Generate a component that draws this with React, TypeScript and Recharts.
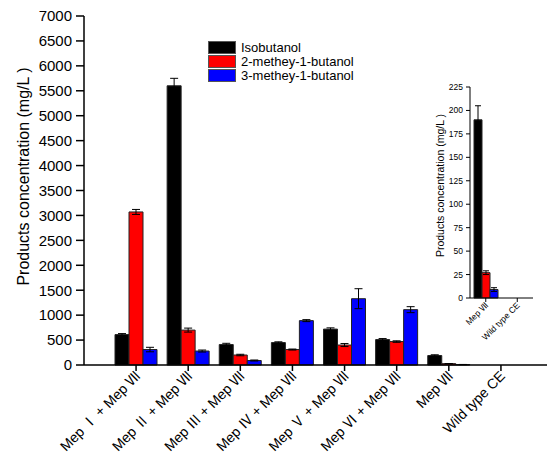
import React from 'react';
import { BarChart, Bar, XAxis, YAxis, ErrorBar, Legend } from 'recharts';

const FONT = '"Liberation Sans", Arial, "Noto Sans CJK SC", sans-serif';
const CJK_FONT = '"Noto Sans CJK SC", "Liberation Sans", sans-serif';

// categories along the x axis
const categories = [
  'Mep Ⅰ + Mep Ⅶ',
  'Mep Ⅱ + Mep Ⅶ',
  'Mep Ⅲ + Mep Ⅶ',
  'Mep Ⅳ + Mep Ⅶ',
  'Mep Ⅴ + Mep Ⅶ',
  'Mep Ⅵ + Mep Ⅶ',
  'Mep Ⅶ',
  'Wild type CE',
];

// mg/L
const isobutanol = [610, 5600, 410, 450, 720, 510, 190, 0];
const isobutanolErr = [20, 150, 25, 15, 25, 20, 15, null];
const methylbutanol2 = [3070, 700, 200, 310, 400, 470, 27, 0];
const methylbutanol2Err = [50, 40, 15, 10, 30, 15, 2, null];
const methylbutanol3 = [310, 280, 90, 890, 1330, 1110, 9, 0];
const methylbutanol3Err = [45, 20, 10, 20, 200, 60, 2, null];

const seriesNames = ['Isobutanol', '2-methey-1-butanol', '3-methey-1-butanol'];
const seriesColors = ['#000000', '#ff0000', '#0000ff'];

// tick values
const mainYTicks = [0, 500, 1000, 1500, 2000, 2500, 3000, 3500, 4000, 4500, 5000, 5500, 6000, 6500, 7000];
const mainYMinorTicks = [250, 750, 1250, 1750, 2250, 2750, 3250, 3750, 4250, 4750, 5250, 5750, 6250, 6750];
const catMinorTicks = [-0.5, 0.5, 1.5, 2.5, 3.5, 4.5, 5.5, 6.5, 7.5];
const frameMajorTicks = [2, 4, 6, 8];
const frameMinorTicks = [1, 3, 5, 7, 9];
const insetYTicks = [0, 25, 50, 75, 100, 125, 150, 175, 200, 225];
const insetYMinorTicks = [12.5, 37.5, 62.5, 87.5, 112.5, 137.5, 162.5, 187.5, 212.5];

const yTitle = 'Products concentration (mg/L )';

const mainData = categories.map((name, i) => ({
  name,
  iso: isobutanol[i],
  isoErr: isobutanolErr[i],
  m2: methylbutanol2[i],
  m2Err: methylbutanol2Err[i],
  m3: methylbutanol3[i],
  m3Err: methylbutanol3Err[i],
}));

// the inset zooms on the last two groups
const insetData = mainData.slice(6);

const noLabel = () => '';
const axisStroke = { stroke: '#000', strokeWidth: 1.5 };

// roman numerals come from the CJK font, like the original figure
const splitNumerals = (s: string) =>
  s.split(/([\u2160-\u216F]+)/).filter(Boolean).map((part, i) =>
    /[\u2160-\u216F]/.test(part)
      ? <tspan key={i} fontFamily={CJK_FONT}>{part}</tspan>
      : <tspan key={i}>{part}</tspan>);

const CatTick = (props: any) => {
  const { x, y, payload, fontSize, dx, dy } = props;
  const tx = x + dx;
  const ty = y + dy;
  return (
    <text x={tx} y={ty} textAnchor="end" fontSize={fontSize} fontFamily={FONT} fill="#000"
      transform={`rotate(-45, ${tx}, ${ty})`} style={{ whiteSpace: 'pre' }}>
      {splitNumerals(String(payload.value))}
    </text>
  );
};

const YTitle = (props: any) => {
  const { viewBox, cx, shift, fontSize } = props;
  const cy = viewBox.y + viewBox.height / 2 + shift;
  return (
    <text x={cx} y={cy} textAnchor="middle" dominantBaseline="central" fontSize={fontSize}
      fontFamily={FONT} fill="#000" transform={`rotate(-90, ${cx}, ${cy})`}>
      {yTitle}
    </text>
  );
};

const LegendBox = (props: any) => {
  const items = [...(props.payload || [])].sort(
    (a: any, b: any) => seriesNames.indexOf(a.value) - seriesNames.indexOf(b.value));
  return (
    <div style={{ fontFamily: FONT, fontSize: 13 }}>
      {items.map((p: any) => (
        <div key={p.value} style={{ display: 'flex', alignItems: 'center', height: 14 }}>
          <span style={{ width: 28, height: 13, background: p.color, border: '1px solid #555', boxSizing: 'border-box' }} />
          <span style={{ marginLeft: 5, color: '#000' }}>{p.value}</span>
        </div>
      ))}
    </div>
  );
};

const App = () => {
  const keys = ['iso', 'm2', 'm3'];
  return (
    <div style={{ position: 'relative', width: 550, height: 462, background: '#fff' }}>
      <style>{'body{margin:0}'}</style>
      <BarChart width={550} height={462} data={mainData} barGap={0}
        margin={{ top: 16, right: 3, bottom: 0, left: 0 }}>
        {/* frame and minor tick axes, zero size so they do not push the plot */}
        <XAxis xAxisId="minor" type="number" domain={[-1, 7.88]} allowDataOverflow ticks={catMinorTicks}
          interval={0} height={0} tickSize={4} axisLine={false} tickLine={axisStroke} tickFormatter={noLabel} />
        <XAxis xAxisId="topMinor" orientation="top" mirror type="number" domain={[0, 9.85]} allowDataOverflow
          ticks={frameMinorTicks} interval={0} height={0} tickSize={4} axisLine={false} tickLine={axisStroke} tickFormatter={noLabel} />
        <XAxis xAxisId="topMajor" orientation="top" mirror type="number" domain={[0, 9.85]} allowDataOverflow
          ticks={frameMajorTicks} interval={0} height={0} tickSize={7} axisLine={axisStroke} tickLine={axisStroke} tickFormatter={noLabel} />
        <YAxis yAxisId="minorY" domain={[0, 7000]} allowDataOverflow ticks={mainYMinorTicks} interval={0}
          width={0} tickSize={5} axisLine={false} tickLine={axisStroke} tickFormatter={noLabel} />
        <YAxis yAxisId="rightMinor" orientation="right" mirror domain={[0, 10]} allowDataOverflow ticks={frameMinorTicks}
          interval={0} width={0} tickSize={2} axisLine={false} tickLine={axisStroke} tickFormatter={noLabel} />
        <YAxis yAxisId="rightMajor" orientation="right" mirror domain={[0, 10]} allowDataOverflow ticks={frameMajorTicks}
          interval={0} width={0} tickSize={5} axisLine={axisStroke} tickLine={axisStroke} tickFormatter={noLabel} />

        <XAxis dataKey="name" height={97} interval={0} padding={{ left: 26, right: 20 }} tickSize={6}
          axisLine={axisStroke} tickLine={axisStroke}
          tick={<CatTick fontSize={14} dx={5} dy={4} />} />
        <YAxis yAxisId="left" width={84} domain={[0, 7000]} ticks={mainYTicks} interval={0} tickSize={8} tickMargin={4}
          axisLine={axisStroke} tickLine={axisStroke}
          tick={{ fill: '#000', fontSize: 15, fontFamily: FONT }}
          label={<YTitle cx={23} shift={-14} fontSize={16} />} />

        <Legend layout="vertical" align="center" verticalAlign="middle" content={<LegendBox />}
          wrapperStyle={{ position: 'absolute', left: 208, top: 40, width: 'auto', height: 'auto' }} />

        {keys.map((k, i) => (
          <Bar key={k} yAxisId="left" dataKey={k} name={seriesNames[i]} fill={seriesColors[i]} barSize={14}
            stroke="#222" strokeWidth={1} isAnimationActive={false}>
            <ErrorBar dataKey={`${k}Err`} width={4} stroke="#000" strokeWidth={1} />
          </Bar>
        ))}
      </BarChart>

      <div style={{ position: 'absolute', left: 400, top: 70, width: 150, height: 330 }}>
        <BarChart width={150} height={330} data={insetData} barGap={0}
          margin={{ top: 17, right: 17, bottom: 0, left: 0 }}>
          <YAxis yAxisId="minorY" domain={[0, 225]} allowDataOverflow ticks={insetYMinorTicks} interval={0}
            width={0} tickSize={2} axisLine={false} tickLine={{ stroke: '#000' }} tickFormatter={noLabel} />
          <XAxis dataKey="name" height={102} interval={0} tickSize={4}
            axisLine={{ stroke: '#000' }} tickLine={{ stroke: '#000' }}
            tick={<CatTick fontSize={8.5} dx={3} dy={2} />} />
          <YAxis yAxisId="left" width={70} domain={[0, 225]} ticks={insetYTicks} interval={0} tickSize={4} tickMargin={3}
            axisLine={{ stroke: '#000' }} tickLine={{ stroke: '#000' }}
            tick={{ fill: '#000', fontSize: 8.5, fontFamily: FONT }}
            label={<YTitle cx={40} shift={-7} fontSize={10.5} />} />
          {keys.map((k, i) => (
            <Bar key={k} yAxisId="left" dataKey={k} name={seriesNames[i]} fill={seriesColors[i]} barSize={8}
              stroke="#222" strokeWidth={1} isAnimationActive={false}>
              <ErrorBar dataKey={`${k}Err`} width={3} stroke="#000" strokeWidth={1} />
            </Bar>
          ))}
        </BarChart>
      </div>
    </div>
  );
};

export default App;
